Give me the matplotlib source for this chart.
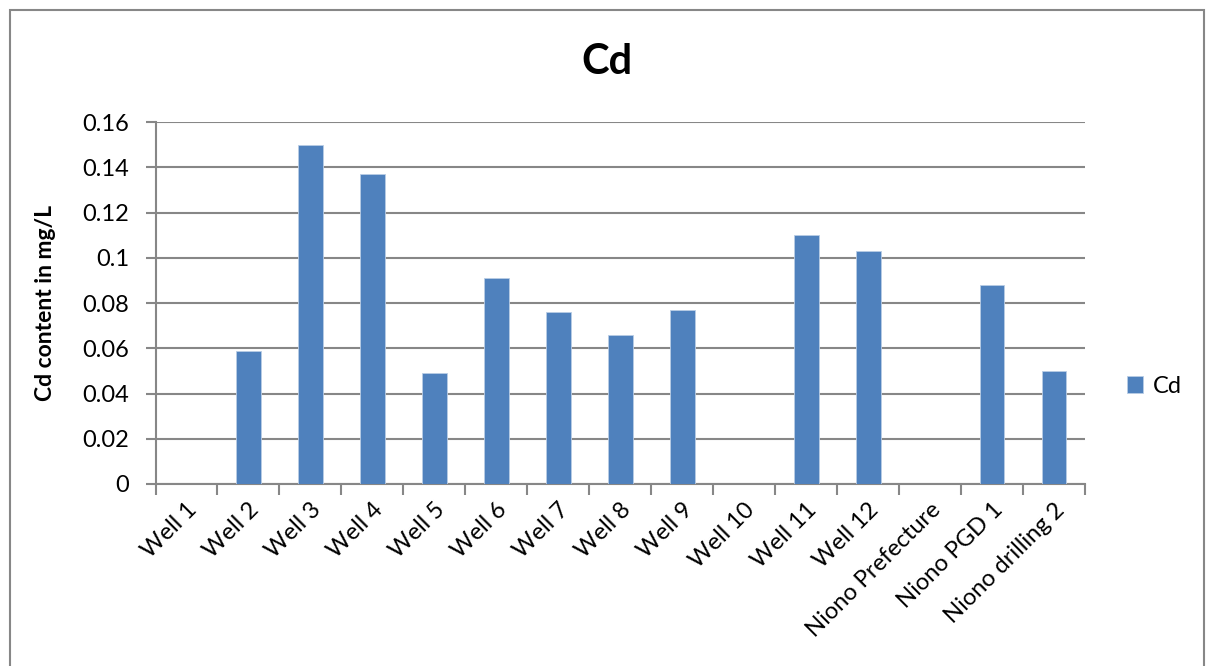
import matplotlib
matplotlib.use('Agg')
import matplotlib.pyplot as plt
from matplotlib.patches import Rectangle

wells = ["Well 1", "Well 2", "Well 3", "Well 4", "Well 5", "Well 6", "Well 7",
         "Well 8", "Well 9", "Well 10", "Well 11", "Well 12",
         "Niono Prefecture", "Niono PGD 1", "Niono drilling 2"]
cd = [0, 0.059, 0.150, 0.137, 0.049, 0.091, 0.076, 0.066, 0.077, 0,
      0.110, 0.103, 0, 0.088, 0.050]
yticks = [0, 0.02, 0.04, 0.06, 0.08, 0.1, 0.12, 0.14, 0.16]
ytick_labels = ["0", "0.02", "0.04", "0.06", "0.08", "0.1", "0.12", "0.14", "0.16"]

plt.rcParams['font.family'] = ['Lato', 'DejaVu Sans']
grey = '#878787'

W, H = 1208, 666
fig = plt.figure(figsize=(W / 100, H / 100), dpi=100)
ax = fig.add_axes([155.5 / W, 1 - 484 / H, (1085 - 155.5) / W, (484 - 122) / H])

# outer chart border
fig.patches.append(Rectangle((10 / W, -0.05), (1204 - 10) / W, 1.05 - 10 / H,
                             transform=fig.transFigure, fill=False,
                             edgecolor=grey, linewidth=1.5))

x = list(range(len(wells)))
ax.bar(x, cd, width=0.4, color='#4F81BD', edgecolor='#B9CDE5', linewidth=0.6,
       label='Cd', zorder=3)

ax.set_xlim(-0.5, len(wells) - 0.5)
ax.set_ylim(0, 0.16)
ax.set_yticks(yticks)
ax.set_yticklabels(ytick_labels, fontsize=17)
ax.yaxis.grid(True, color=grey, linewidth=1.5, zorder=0)
ax.set_axisbelow(True)

ax.set_xticks(x)
ax.set_xticklabels(wells, rotation=45, ha='right', rotation_mode='anchor',
                   fontsize=17)
ax.tick_params(axis='x', length=0, pad=11)
ax.set_xticks([i - 0.5 for i in range(len(wells) + 1)], minor=True)
ax.tick_params(axis='x', which='minor', length=8, width=1.5, color=grey)
ax.tick_params(axis='y', length=7, width=1.5, color=grey, pad=12)

for s in ['top', 'right']:
    ax.spines[s].set_visible(False)
for s in ['left', 'bottom']:
    ax.spines[s].set_color(grey)
    ax.spines[s].set_linewidth(1.5)

ax.set_ylabel('Cd content in mg/L', fontsize=16.5, fontweight='bold', labelpad=19)
fig.text(607 / W, 1 - 62 / H, 'Cd', fontsize=30, fontweight='bold',
         ha='center', va='center')

ax.legend(loc='center left', bbox_to_anchor=(1.022, 0.27),
          frameon=False, fontsize=17, handlelength=0.7, handleheight=0.7,
          handletextpad=0.4)

fig.savefig('out.png', dpi=100)
